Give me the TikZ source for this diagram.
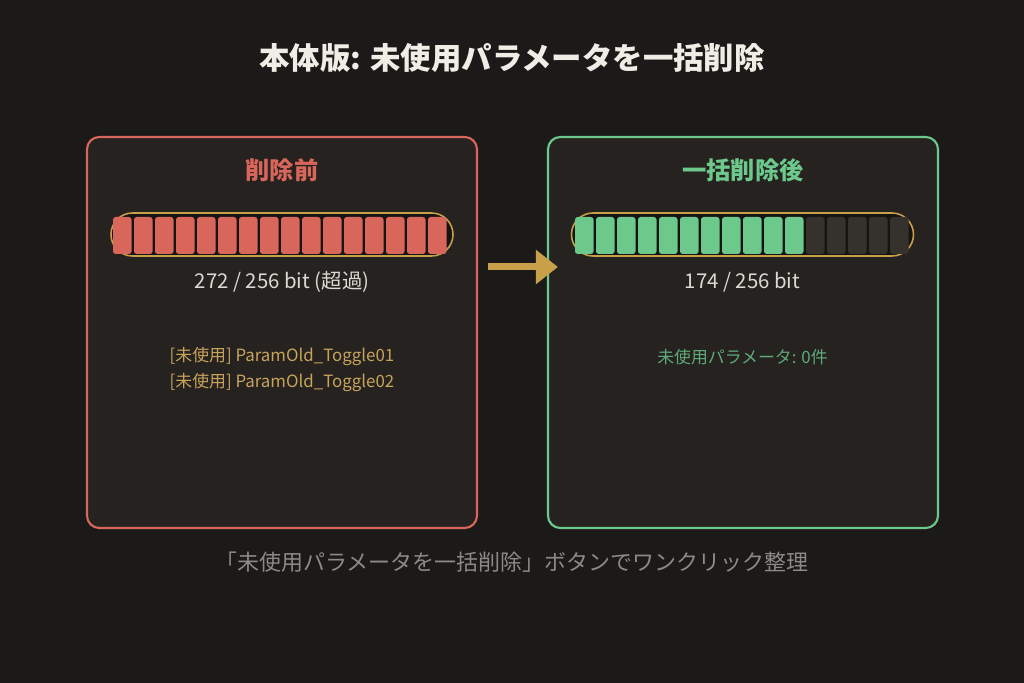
\documentclass[tikz,border=0pt]{standalone}
\usepackage{fontspec}
\setmainfont{Noto Sans CJK JP}
\usepackage{tikz}
\usetikzlibrary{positioning, arrows.meta}

\definecolor{bgdark}{HTML}{1B1A19}
\definecolor{panelfill}{HTML}{252220}
\definecolor{oldred}{HTML}{D9665B}
\definecolor{newgreen}{HTML}{6CC98B}
\definecolor{gold}{HTML}{C9A04A}
\definecolor{cellempty}{HTML}{35312D}
\definecolor{capfill}{HTML}{161412}
\definecolor{titlewhite}{HTML}{F0EDE6}
\definecolor{statgray}{HTML}{DCD9D4}
\definecolor{listgold}{HTML}{C8A45A}
\definecolor{listgreen}{HTML}{5FAA78}
\definecolor{footgray}{HTML}{8C8A87}

\tikzset{
  panel/.style={draw=#1, line width=1.2pt, fill=panelfill, rounded corners=7pt,
    minimum width=7.8cm, minimum height=7.82cm},
  paneltitle/.style={font=\fontsize{13.8}{16}\selectfont\bfseries, text=#1},
  capsule/.style={draw=gold, line width=0.9pt, fill=capfill, rounded corners=0.43cm,
    minimum width=6.84cm, minimum height=0.86cm},
  stat/.style={font=\fontsize{11.6}{14}\selectfont, text=statgray},
  item/.style={font=\fontsize{9.6}{11}\selectfont, text=#1},
  flow/.style={draw=gold, line width=0.14cm, -{Triangle[length=0.44cm,width=0.66cm]}}
}

\begin{document}
\begin{tikzpicture}
% background
\fill[bgdark] (0,0) rectangle (20.48,-13.66);
\useasboundingbox (0,0) rectangle (20.48,-13.66);

% heading
\node[font=\fontsize{17.3}{20}\selectfont\bfseries, text=titlewhite] (head) at (10.24,-1.16)
  {本体版: 未使用パラメータを一括削除};

% the two panels
\node[panel=oldred] (before) at (5.64,-6.65) {};
\node[panel=newgreen] (after) at (14.86,-6.65) {};

\node[paneltitle=oldred] (beforetitle) at (5.64,-3.4) {削除前};
\node[paneltitle=newgreen] (aftertitle) at (14.86,-3.4) {一括削除後};

% bit bars
\node[capsule] (barL) at (5.64,-4.69) {};
\node[capsule] (barR) at (14.85,-4.69) {};

\foreach \i in {0,...,15}
\fill[oldred, rounded corners=1.5pt] ({2.26+0.42*\i},-4.34) rectangle +(0.37,-0.74);

\foreach \i in {0,...,10}
\fill[newgreen, rounded corners=1.5pt] ({11.5+0.42*\i},-4.34) rectangle +(0.37,-0.74);
\foreach \i in {11,...,15}
\fill[cellempty, rounded corners=1.5pt] ({11.5+0.42*\i},-4.34) rectangle +(0.37,-0.74);

% bit counts
\node[stat] (countL) at (5.64,-5.64) {272 / 256 bit (超過)};
\node[stat] (countR) at (14.85,-5.64) {174 / 256 bit};

% unused params
\node[item=listgold] (unused1) at (5.64,-7.14) {[未使用] ParamOld\_Toggle01};
\node[item=listgold] (unused2) at (5.64,-7.66) {[未使用] ParamOld\_Toggle02};
\node[item=listgreen] (unusedR) at (14.85,-7.14) {未使用パラメータ: 0件};

% arrow between panels
\draw[flow] ([xshift=0.2cm]before.east |- 0,-5.34) -- ([xshift=0.22cm]after.west |- 0,-5.34);

% footer
\node[font=\fontsize{12.5}{15}\selectfont, text=footgray] (foot) at (10.24,-11.24)
  {「未使用パラメータを一括削除」ボタンでワンクリック整理};
\end{tikzpicture}
\end{document}
